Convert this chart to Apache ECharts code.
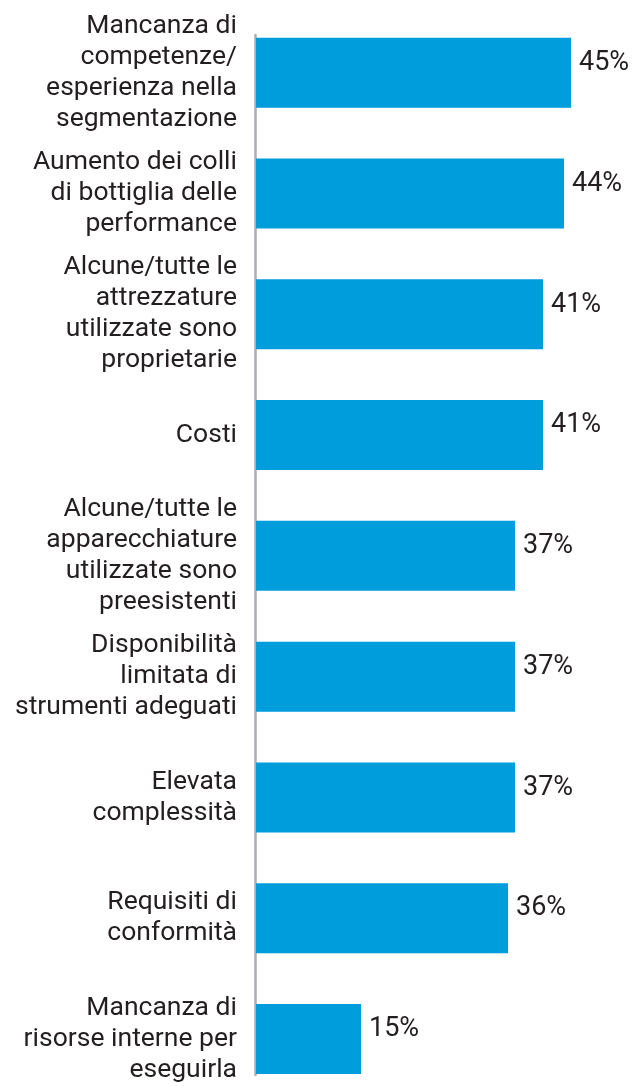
<!DOCTYPE html>
<html>
<head>
<meta charset="utf-8">
<script src="https://cdn.jsdelivr.net/npm/echarts@6/dist/echarts.min.js"></script>
<style>
html,body{margin:0;padding:0;background:#fff;}
#c{width:638px;height:1086px;}
</style>
</head>
<body>
<div id="c"></div>
<script>
const categories = [
  "Mancanza di\ncompetenze/\nesperienza nella\nsegmentazione",
  "Aumento dei colli\ndi bottiglia delle\nperformance",
  "Alcune/tutte le\nattrezzature\nutilizzate sono\nproprietarie",
  "Costi",
  "Alcune/tutte le\napparecchiature\nutilizzate sono\npreesistenti",
  "Disponibilità\nlimitata di\nstrumenti adeguati",
  "Elevata\ncomplessità",
  "Requisiti di\nconformità",
  "Mancanza di\nrisorse interne per\neseguirla"
];
const values = [45, 44, 41, 41, 37, 37, 37, 36, 15];

const chart = echarts.init(document.getElementById('c'), null, {renderer: 'canvas'});
chart.setOption({
  backgroundColor: '#ffffff',
  animation: false,
  grid: [
    {left: 256, width: 350, top: 12.3, height: 1087.1, containLabel: false, outerBoundsMode: 'none'},
    {left: 255.2, width: 1, top: 35, bottom: 11, containLabel: false, outerBoundsMode: 'none'}
  ],
  xAxis: [
    {type: 'value', gridIndex: 0, min: 0, max: 50, show: false},
    {type: 'value', gridIndex: 1, min: 0, max: 1, show: false}
  ],
  yAxis: [
    {
      type: 'category', gridIndex: 0, data: categories, inverse: true,
      axisLine: {show: false}, axisTick: {show: false},
      axisLabel: {
        margin: 19, color: '#231f20', fontSize: 26.5, lineHeight: 31,
        fontFamily: 'Roboto', align: 'right'
      }
    },
    {
      type: 'value', gridIndex: 1, min: 0, max: 1,
      axisLine: {show: true, lineStyle: {color: '#adadb2', width: 2.5}},
      axisTick: {show: false}, axisLabel: {show: false}, splitLine: {show: false}
    }
  ],
  series: [{
    type: 'bar', xAxisIndex: 0, yAxisIndex: 0,
    data: values, barWidth: 70,
    itemStyle: {color: '#009ddc'},
    label: {
      show: true, position: 'right', distance: 8, offset: [0, -9.5],
      formatter: p => p.value + '%',
      color: '#231f20', fontSize: 27, fontFamily: 'Roboto'
    }
  }]
});
</script>
</body>
</html>
